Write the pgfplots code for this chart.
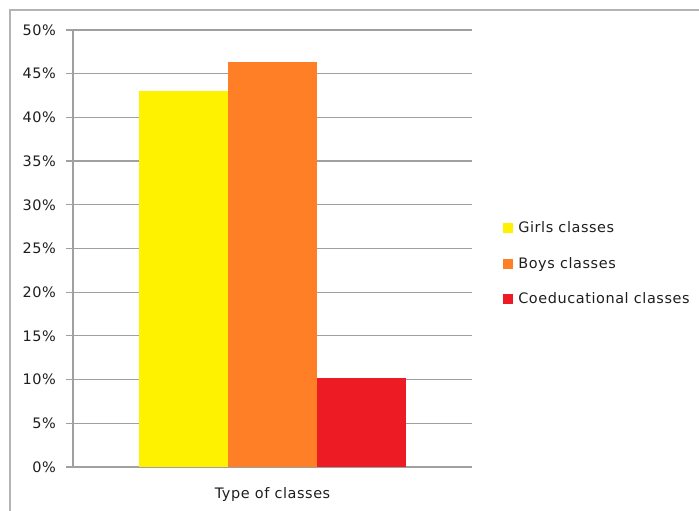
\documentclass[border=0pt]{standalone}
\usepackage{pgfplots}
\pgfplotsset{compat=1.18}
\usepackage{fontspec}
\setmainfont{DejaVu Sans}[LetterSpace=4]
\definecolor{cYel}{HTML}{FFF200}
\definecolor{cOra}{HTML}{FF7F27}
\definecolor{cRed}{HTML}{ED1C24}
\definecolor{cGrid}{HTML}{A0A0A0}
\definecolor{cText}{HTML}{1E1E1E}
\newcommand{\chartfont}{\fontsize{14.5}{17}\selectfont}
\begin{document}
\chartfont
\begin{tikzpicture}
\useasboundingbox (-73bp,-44bp) rectangle (626bp,467bp);
\draw[color=cGrid!80, line width=1.6bp] (-63bp,-80bp) -- (-63bp,457bp) -- (700bp,457bp);
\begin{axis}[
  at={(0,0)}, anchor=south west,
  scale only axis, width=399bp, height=437bp,
  ybar=0pt, bar width=89bp,
  xmin=-0.5, xmax=0.5,
  ymin=0, ymax=50,
  xtick={0}, xticklabels={Type of classes},
  xtick style={draw=none},
  extra x ticks={-0.5}, extra x tick labels={},
  extra x tick style={major tick length=5bp, tick style={draw=cGrid, line width=1.2bp}, tick align=outside, grid=none},
  ytick={0,5,...,50},
  yticklabel={\pgfmathprintnumber{\tick}\%},
  /pgf/number format/assume math mode=true,
  ymajorgrids, grid style={draw=cGrid, line width=1.2bp},
  axis x line*=bottom, axis y line*=left,
  axis line style={draw=cGrid, line width=1.2bp, -},
  y tick style={draw=cGrid, line width=1.2bp},
  tick align=outside, major tick length=7bp,
  ticklabel style={font=\chartfont, text=cText},
  yticklabel style={xshift=-5bp},
  xticklabel style={yshift=-9bp},
  legend style={at={(rel axis cs:1.078,0.465)}, anchor=west, draw=none, fill=none,
    inner xsep=0pt, font=\chartfont, text=cText,
    row sep=18.5bp, nodes={inner xsep=5bp}},
  legend cell align=left,
  legend image code/.code={\fill[#1] (0bp,-5bp) rectangle (10bp,5bp);},
]
\addplot[fill=cYel, draw=none] coordinates {(0,43.0)};
\addplot[fill=cOra, draw=none] coordinates {(0,46.3)};
\addplot[fill=cRed, draw=none] coordinates {(0,10.2)};
\legend{Girls classes, Boys classes, Coeducational classes}
\end{axis}
\end{tikzpicture}
\end{document}
